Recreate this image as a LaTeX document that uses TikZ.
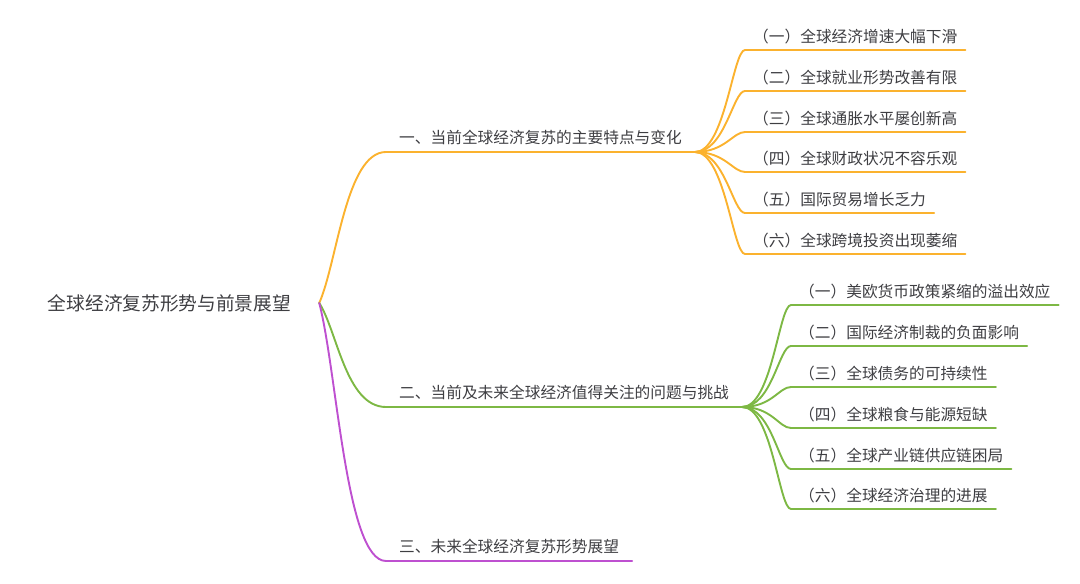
\documentclass[tikz,border=0pt]{standalone}
\usepackage{fontspec}
\newfontfamily\cjk{Noto Sans CJK SC}
\usetikzlibrary{positioning}
\usetikzlibrary{calc}

\definecolor{orangeline}{RGB}{251,178,46}
\definecolor{greenline}{RGB}{125,184,68}
\definecolor{purpleline}{RGB}{190,80,208}
\definecolor{txtgray}{RGB}{62,62,66}

\begin{document}
\begin{tikzpicture}[x=1bp,y=-1bp,
  topic/.style={text=txtgray,font=\cjk\fontsize{15.7bp}{18bp}\selectfont,text depth=0pt,anchor=south west,inner ysep=7bp,inner xsep=8bp},
  branch/.style={topic,inner xsep=13bp,inner ysep=8bp},
  link/.style={line width=1.9bp,line cap=round}]

\useasboundingbox (0,0) rectangle (1080,584);

%root
\node[text=txtgray,font=\cjk\fontsize{18.7bp}{22bp}\selectfont,inner sep=0pt] (root) at (169.5,303) {全球经济复苏形势与前景展望};
\coordinate[right=28bp of root] (rj);

%main branches
\node[branch] (b1) at (386,152) {一、当前全球经济复苏的主要特点与变化};
\node[branch] (b2) at (386,407) {二、当前及未来全球经济值得关注的问题与挑战};
\node[branch] (b3) at (386,561) {三、未来全球经济复苏形势展望};

\foreach \b/\c in {b1/orangeline,b2/greenline,b3/purpleline}
  \draw[link,\c] (rj) .. controls ($(rj)!0.27!(\b.south west)$) and +(-40,0) .. (\b.south west) -- (\b.south east);

%sub topics of branch one
\coordinate (j1) at (b1.south east);
\foreach \k/\y/\lbl in {1/50/（一）全球经济增速大幅下滑,2/91/（二）全球就业形势改善有限,3/132/（三）全球通胀水平屡创新高,4/172/（四）全球财政状况不容乐观,5/213/（五）国际贸易增长乏力,6/254/（六）全球跨境投资出现萎缩}
{
  \node[topic] (c1\k) at (745,\y) {\lbl};
  \draw[link,orangeline] (j1) .. controls +(30,0) and +(-12,0) .. (c1\k.south west) -- (c1\k.south east);
}

%sub topics of branch two
\coordinate (j2) at (b2.south east);
\foreach \k/\y/\lbl in {1/305/（一）美欧货币政策紧缩的溢出效应,2/346/（二）国际经济制裁的负面影响,3/387/（三）全球债务的可持续性,4/428/（四）全球粮食与能源短缺,5/469/（五）全球产业链供应链困局,6/509/（六）全球经济治理的进展}
{
  \node[topic] (c2\k) at (791,\y) {\lbl};
  \draw[link,greenline] (j2) .. controls +(30,0) and +(-12,0) .. (c2\k.south west) -- (c2\k.south east);
}

\end{tikzpicture}
\end{document}
